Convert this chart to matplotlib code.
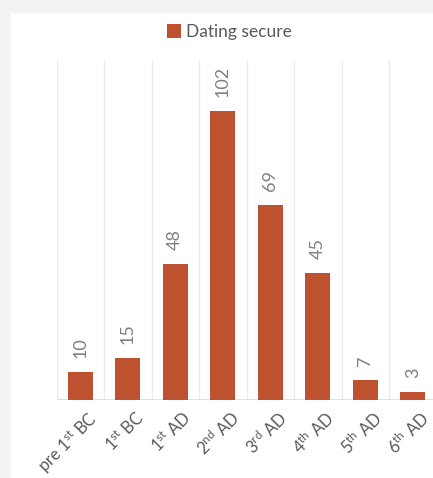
import matplotlib
matplotlib.use('Agg')
import matplotlib.pyplot as plt
import matplotlib.transforms as mtransforms
import numpy as np

# data
categories = [r'pre 1$^{\mathrm{st}}$ BC', r'1$^{\mathrm{st}}$ BC', r'1$^{\mathrm{st}}$ AD',
              r'2$^{\mathrm{nd}}$ AD', r'3$^{\mathrm{rd}}$ AD', r'4$^{\mathrm{th}}$ AD',
              r'5$^{\mathrm{th}}$ AD', r'6$^{\mathrm{th}}$ AD']
values = [10, 15, 48, 102, 69, 45, 7, 3]
series_name = 'Dating secure'

plt.rcParams['font.family'] = ['Lato', 'DejaVu Sans']
plt.rcParams['mathtext.fontset'] = 'custom'
plt.rcParams['mathtext.rm'] = 'Lato'
plt.rcParams['mathtext.it'] = 'Lato'

bar_color = '#BE5230'
text_color = '#595959'
grid_color = '#EBEBEB'

fig = plt.figure(figsize=(4.33, 4.78), dpi=100)
fig.patch.set_facecolor('#F3F3F3')
# white card
fig.patches.append(plt.Rectangle((11 / 433, 0), 1, 1 - 13 / 478, transform=fig.transFigure,
                                 facecolor='white', edgecolor='none', zorder=-5))

ax = fig.add_axes([56.5 / 433, 78 / 478, 380 / 433, 340 / 478])
ax.set_zorder(1)
ax.set_facecolor('none')
x = np.arange(len(values))
bars = ax.bar(x, values, width=0.53, color=bar_color, label=series_name, zorder=3)

ax.set_xlim(-0.5, len(values) - 0.5)
ax.set_ylim(0, 120)

# vertical separators between categories
for b in np.arange(-0.5, len(values), 1.0):
    ax.axvline(b, color=grid_color, lw=1, zorder=1)
ax.axhline(0, color='#DADADA', lw=1.2, zorder=2)

for s in ax.spines.values():
    s.set_visible(False)
ax.set_yticks([])
ax.set_xticks(x)
ax.set_xticklabels(categories, rotation=45, ha='right', rotation_mode='anchor',
                   fontsize=12, color=text_color)
ax.tick_params(axis='x', length=0, pad=6)
shift = mtransforms.ScaledTranslation(7 / 100, 0, fig.dpi_scale_trans)
for lbl in ax.get_xticklabels():
    lbl.set_transform(lbl.get_transform() + shift)

for xi, v in zip(x, values):
    ax.annotate(str(v), (xi, v), xytext=(0, 10), textcoords='offset points',
                rotation=90, ha='center', va='bottom', fontsize=13, color='#808080')

fig.legend(handles=[bars], labels=[series_name], loc='center', bbox_to_anchor=(0.53, 1 - 32 / 478),
           frameon=False, fontsize=12.5, handlelength=0.8, handleheight=0.8, handletextpad=0.3,
           labelcolor=text_color)

fig.savefig('out.png', dpi=100, facecolor=fig.get_facecolor())
